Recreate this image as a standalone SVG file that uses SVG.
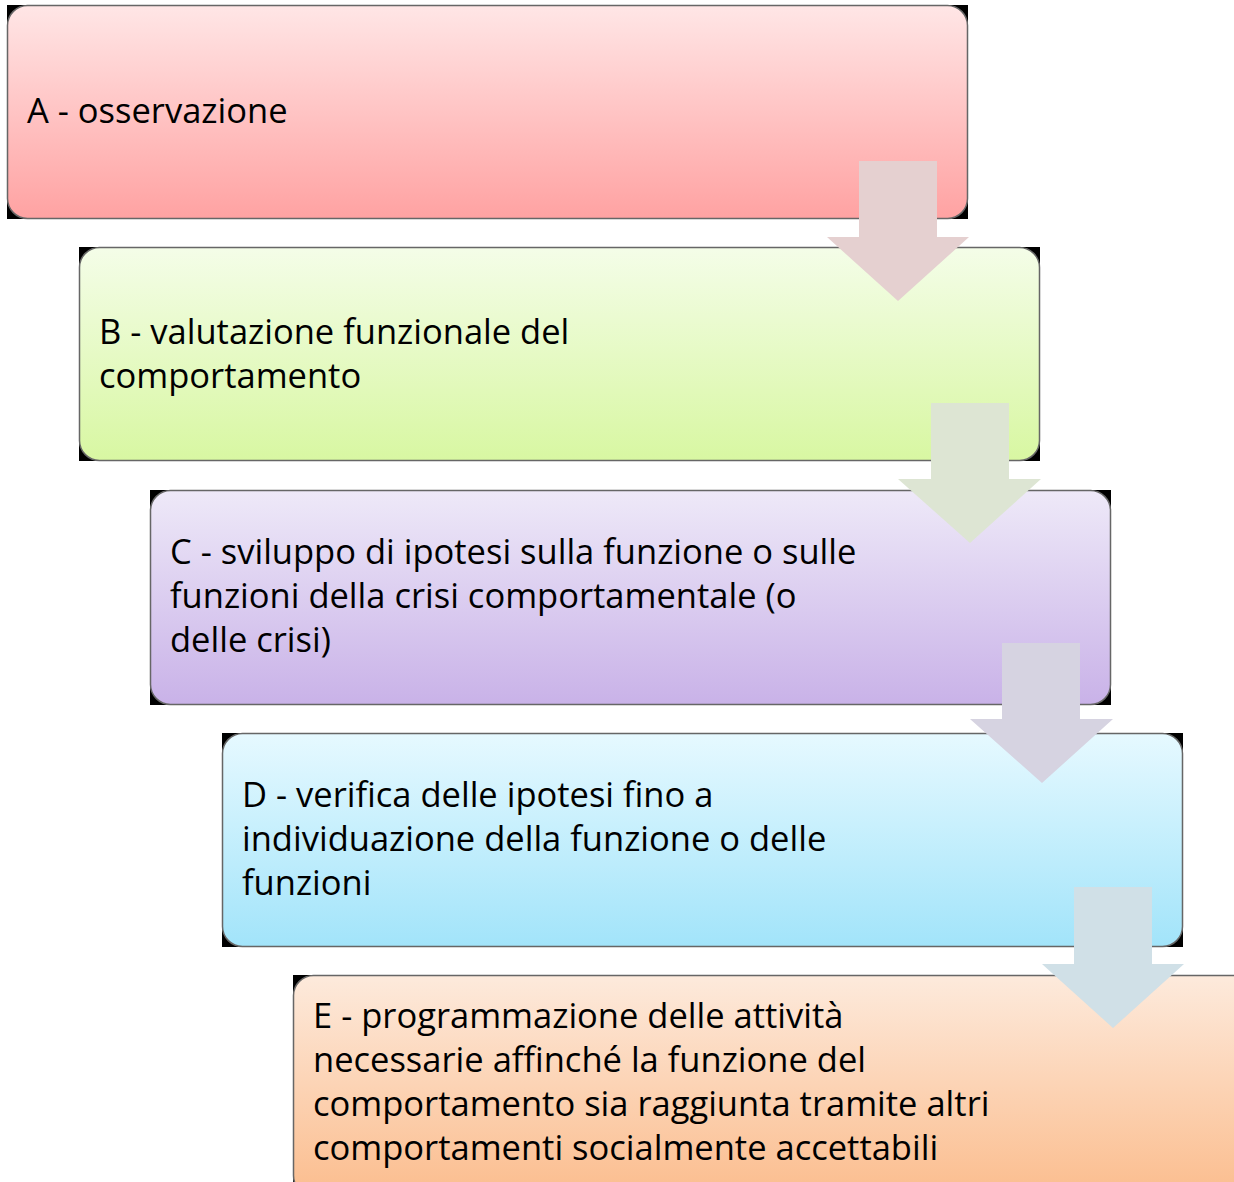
<svg xmlns="http://www.w3.org/2000/svg" width="1234" height="1182" viewBox="0 0 1234 1182">
<defs>
<linearGradient id="gA" x1="0" y1="0" x2="0" y2="1"><stop offset="0" stop-color="#ffe6e6"/><stop offset="1" stop-color="#ffa2a2"/></linearGradient>
<linearGradient id="gB" x1="0" y1="0" x2="0" y2="1"><stop offset="0" stop-color="#f4fde8"/><stop offset="1" stop-color="#d8f7a2"/></linearGradient>
<linearGradient id="gC" x1="0" y1="0" x2="0" y2="1"><stop offset="0" stop-color="#eee9f8"/><stop offset="1" stop-color="#c9b2e8"/></linearGradient>
<linearGradient id="gD" x1="0" y1="0" x2="0" y2="1"><stop offset="0" stop-color="#e6f9ff"/><stop offset="1" stop-color="#a2e4fa"/></linearGradient>
<linearGradient id="gE" x1="0" y1="0" x2="0" y2="1"><stop offset="0" stop-color="#fdeadc"/><stop offset="1" stop-color="#fbbd8e"/></linearGradient>
</defs>
<style>
.bg{fill:#000}
.box{stroke:#666;stroke-width:1.5}
.t{font-family:"Open Sans","Liberation Sans",sans-serif;font-size:34.5px;fill:#000}
</style>
<g id="nodeA">
<rect class="bg" x="7" y="5" width="961" height="214"/>
<rect class="box" x="7.5" y="5.5" width="960" height="213" rx="20" fill="url(#gA)"/>
<text class="t" x="27" y="123">A - osservazione</text>
</g>
<g id="nodeB">
<rect class="bg" x="79" y="247" width="961" height="214"/>
<rect class="box" x="79.5" y="247.5" width="960" height="213" rx="20" fill="url(#gB)"/>
<text class="t" x="99" y="344">B - valutazione funzionale del</text>
<text class="t" x="99" y="388">comportamento</text>
</g>
<g id="nodeC">
<rect class="bg" x="150" y="490" width="961" height="215"/>
<rect class="box" x="150.5" y="490.5" width="960" height="214" rx="20" fill="url(#gC)"/>
<text class="t" x="170" y="564">C - sviluppo di ipotesi sulla funzione o sulle</text>
<text class="t" x="170" y="608">funzioni della crisi comportamentale (o</text>
<text class="t" x="170" y="652">delle crisi)</text>
</g>
<g id="nodeD">
<rect class="bg" x="222" y="733" width="961" height="214"/>
<rect class="box" x="222.5" y="733.5" width="960" height="213" rx="20" fill="url(#gD)"/>
<text class="t" x="242" y="807">D - verifica delle ipotesi fino a</text>
<text class="t" x="242" y="851">individuazione della funzione o delle</text>
<text class="t" x="242" y="895">funzioni</text>
</g>
<g id="nodeE">
<rect class="bg" x="293" y="975" width="941" height="207"/>
<rect class="box" x="293.5" y="975.5" width="960" height="220" rx="20" fill="url(#gE)"/>
<text class="t" x="313" y="1028">E - programmazione delle attività</text>
<text class="t" x="313" y="1072">necessarie affinché la funzione del</text>
<text class="t" x="313" y="1116">comportamento sia raggiunta tramite altri</text>
<text class="t" x="313" y="1160">comportamenti socialmente accettabili</text>
</g>
<g id="connectors">
<polygon fill="#e5d0d0" points="859,161 937,161 937,237 969,237 898,301 827,237 859,237"/>
<polygon fill="#dde5d3" points="931,403 1009,403 1009,479 1041,479 970,543 898,479 931,479"/>
<polygon fill="#d6d3e1" points="1002,643 1080,643 1080,719 1113,719 1042,783 970,719 1002,719"/>
<polygon fill="#d0e0e7" points="1074,887 1152,887 1152,964 1184,964 1113,1028 1042,964 1074,964"/>
</g>
</svg>
